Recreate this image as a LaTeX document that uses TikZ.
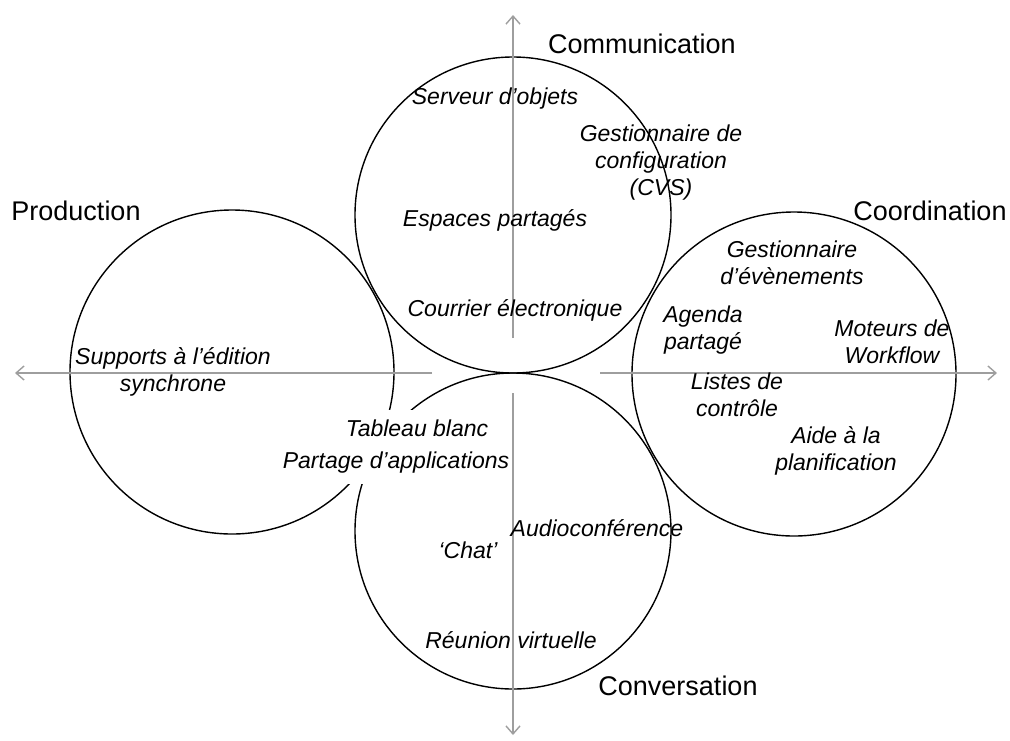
\documentclass[tikz,border=0pt]{standalone}
\usepackage{fontspec}
\setmainfont{Liberation Sans}
\usetikzlibrary{arrows.meta}
\begin{document}
\begin{tikzpicture}[x=1pt,y=-1pt,
  axis/.style={draw=black!38,line width=1.4pt,-{Straight Barb[length=8pt,width=14pt]}},
  ring/.style={draw=black,line width=1.4pt},
  head/.style={font=\fontsize{27}{31}\selectfont,inner sep=0pt},
  lbl/.style={font=\fontsize{23}{27}\selectfont\itshape,align=center,inner sep=0pt},
  lblw/.style={lbl,fill=white,inner xsep=1pt,inner ysep=10pt}]
\useasboundingbox (0,0) rectangle (1010,740);
% circles
\draw[ring] (513,215) circle [radius=158];
\draw[ring] (513,531) circle [radius=158];
\draw[ring] (232,372) circle [radius=162];
\draw[ring] (794,374) circle [radius=162];
% axes
\coordinate (hl0) at (432,373); \coordinate (hl1) at (15,373);
\coordinate (hr0) at (600,373); \coordinate (hr1) at (997,373);
\coordinate (vt0) at (513,338); \coordinate (vt1) at (513,15);
\coordinate (vb0) at (513,393); \coordinate (vb1) at (513,735);
\draw[axis] (hl0) -- (hl1);
\draw[axis] (hr0) -- (hr1);
\draw[axis] (vt0) -- (vt1);
% labels
\node[lblw] (tab) at (417,428) {Tableau blanc};
\node[lblw] (part) at (396,463) {Partage d’applications};
\draw[axis] (vb0) -- (vb1);
% headings
\node[head] (com) at (642,44) {Communication};
\node[head] (prod) at (76,211) {Production};
\node[head] (coord) at (930,211) {Coordination};
\node[head] (conv) at (678,686) {Conversation};
\node[lbl] (serv) at (495,99) {Serveur d’objets};
\node[lbl] (gconf) at (661,163) {Gestionnaire de\\configuration\\(CVS)};
\node[lbl] (esp) at (495,220) {Espaces partagés};
\node[lbl] (cour) at (515,310) {Courrier électronique};
\node[lbl] (supp) at (173,372) {Supports à l’édition\\synchrone};
\node[lbl] (audio) at (597,528) {Audioconférence};
\node[lbl] (chat) at (468,550) {‘Chat’};
\node[lbl] (reun) at (511,640) {Réunion virtuelle};
\node[lbl] (gev) at (792,263) {Gestionnaire\\d’évènements};
\node[lbl] (agen) at (703,330) {Agenda\\partagé};
\node[lbl] (mot) at (892,342) {Moteurs de\\Workflow};
\node[lbl] (list) at (737,395) {Listes de\\contrôle};
\node[lbl] (aide) at (836,451) {Aide à la\\planification};
\end{tikzpicture}
\end{document}
